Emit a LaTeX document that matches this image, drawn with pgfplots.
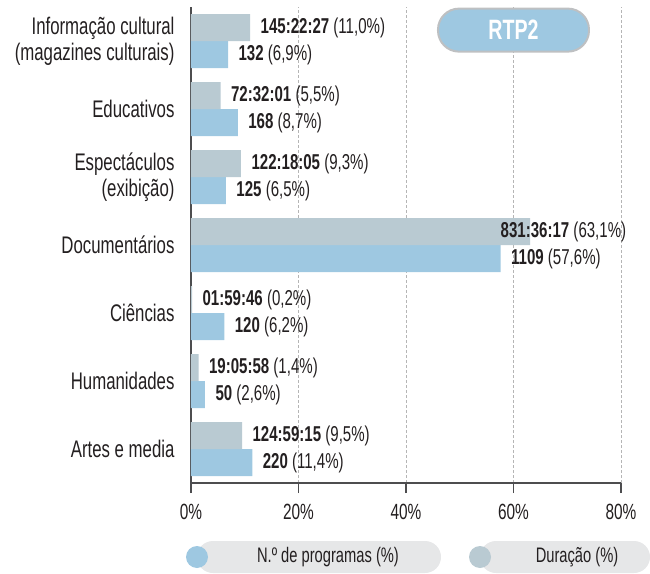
\documentclass[border=0pt]{standalone}
\usepackage{fontspec}
\setmainfont{Liberation Sans}[FakeStretch=0.7]
\usepackage{pgfplots}
\pgfplotsset{compat=1.18}
\usepackage{pgfplotstable}
\definecolor{barGrey}{HTML}{B9CAD2}
\definecolor{barBlue}{HTML}{9EC8E1}
\definecolor{pill}{HTML}{E6E7E8}
\definecolor{txt}{HTML}{231F20}
\definecolor{axisc}{HTML}{4D4D4F}
\definecolor{gridc}{HTML}{B5B5B5}
\definecolor{badgeBorder}{HTML}{BEC0C2}
\protected\def\lab#1#2{{\bfseries #1} (#2\%)}

\pgfplotstableread[col sep=semicolon]{
y;x;shift;label
6;11.0;0;\lab{145:22:27}{11,0}
5;5.5;0;\lab{72:32:01}{5,5}
4;9.3;0;\lab{122:18:05}{9,3}
3;63.1;-40;\lab{831:36:17}{63,1}
2;0.2;0;\lab{01:59:46}{0,2}
1;1.4;0;\lab{19:05:58}{1,4}
0;9.5;0;\lab{124:59:15}{9,5}
}\duracao

\pgfplotstableread[col sep=semicolon]{
y;x;shift;label
6;6.9;0;\lab{132}{6,9}
5;8.7;0;\lab{168}{8,7}
4;6.5;0;\lab{125}{6,5}
3;57.6;0;\lab{1109}{57,6}
2;6.2;0;\lab{120}{6,2}
1;2.6;0;\lab{50}{2,6}
0;11.4;0;\lab{220}{11,4}
}\programas

\begin{document}
\begin{tikzpicture}
\path[use as bounding box] (-191pt,-90pt) rectangle (459pt,483pt);
\begin{axis}[
  scale only axis, width=430pt, height=476pt,
  xmin=0, xmax=80, ymin=-0.5, ymax=6.5,
  xbar=0pt, bar width=27pt,
  axis x line*=bottom, axis y line*=left,
  axis line style={axisc, line width=1.2pt},
  tick align=outside, major tick length=10pt,
  xtick={0,20,40,60,80},
  xticklabel={\pgfmathprintnumber{\tick}\%},
  /pgf/number format/assume math mode=true,
  x tick style={axisc, line width=1.2pt},
  xticklabel style={font=\fontsize{22}{22}\selectfont, text=txt, yshift=-8pt},
  xmajorgrids,
  major x grid style={densely dashed, gridc, line width=0.7pt},
  ytick={0,1,2,3,4,5,6},
  yticklabels={Artes e media, Humanidades, Ciências, Documentários, {Espectáculos\\(exibição)}, Educativos, {Informação cultural\\(magazines culturais)}},
  y tick style={draw=none},
  yticklabel style={align=right, font=\fontsize{24}{26}\selectfont, text=txt, xshift=-3pt},
  extra y ticks={-0.5,0.5,1.5,2.5,3.5,4.5,5.5,6.5},
  extra y tick labels={},
  extra y tick style={draw=axisc, line width=1.2pt, tick align=outside},
  point meta=explicit symbolic,
  nodes near coords,
  visualization depends on={\thisrow{shift}\as\myshift},
  nodes near coords style={anchor=west, text=txt, font=\fontsize{21.5}{22}\selectfont, xshift=\myshift pt + 7pt},
  clip=false,
]
\addplot[fill=barBlue, draw=none] table[x=x, y=y, meta=label]{\programas};
\addplot[fill=barGrey, draw=none] table[x=x, y=y, meta=label]{\duracao};
\node[fill=barBlue, draw=badgeBorder, line width=2pt, rounded corners=21pt,
      minimum width=151pt, minimum height=43pt, text=white,
      font=\bfseries\fontsize{28}{28}\selectfont] at (axis cs:60,6.16) {RTP2};
\end{axis}
\fill[pill, rounded corners=16pt] (6pt,-90pt) rectangle (250pt,-58pt);
\fill[barBlue] (6pt,-74pt) circle (11pt);
\node[text=txt, font=\fontsize{21}{21}\selectfont] at (137pt,-74pt) {N.º de programas (\%)};
\fill[pill, rounded corners=16pt] (289pt,-90pt) rectangle (459pt,-58pt);
\fill[barGrey] (289pt,-74pt) circle (11pt);
\node[text=txt, font=\fontsize{21}{21}\selectfont] at (386pt,-74pt) {Duração (\%)};
\end{tikzpicture}
\end{document}
